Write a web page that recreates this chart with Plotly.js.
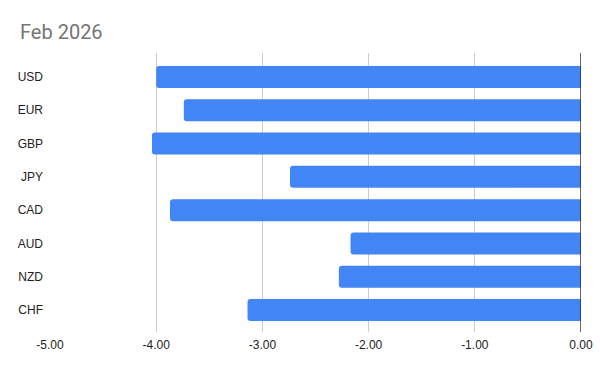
<!DOCTYPE html>
<html>
<head>
<meta charset="utf-8">
<script src="https://cdn.plot.ly/plotly-3.0.1.min.js"></script>
<style>html,body{margin:0;padding:0;background:#fff;}#chart{width:600px;height:371px;}</style>
</head>
<body>
<div id="chart"></div>
<script>
const currencies = ["USD", "EUR", "GBP", "JPY", "CAD", "AUD", "NZD", "CHF"];
const values = [-4.00, -3.74, -4.04, -2.74, -3.87, -2.17, -2.28, -3.14];
const xTickVals = [-5, -4, -3, -2, -1, 0];
const xTickText = ["-5.00", "-4.00", "-3.00", "-2.00", "-1.00", "0.00"];
const chartTitle = "Feb 2026";

const trace = {
  type: "bar",
  orientation: "h",
  y: currencies,
  x: values,
  marker: { color: "#4285F4", cornerradius: 3 },
  hoverinfo: "x+y"
};

const layout = {
  width: 600,
  height: 371,
  paper_bgcolor: "#ffffff",
  plot_bgcolor: "#ffffff",
  margin: { l: 50, r: 19, t: 53, b: 39 },
  title: {
    text: chartTitle,
    font: { family: "Roboto, Arial, sans-serif", size: 20, color: "#757575" },
    x: 0, xref: "paper", xanchor: "left",
    y: 1, yref: "container", yanchor: "top",
    pad: { t: 25, l: -30 }
  },
  bargap: 0.34,
  showlegend: false,
  xaxis: {
    range: [-5, 0],
    tickvals: xTickVals,
    ticktext: xTickText,
    showgrid: true,
    gridcolor: "#cccccc",
    gridwidth: 1,
    zeroline: false,
    showline: false,
    ticks: "",
    ticklabelstandoff: 4,
    tickfont: { family: "Arial, Liberation Sans, sans-serif", size: 12, color: "#222222" },
    fixedrange: true
  },
  yaxis: {
    type: "category",
    autorange: false,
    range: [7.66, -0.72],
    showgrid: false,
    zeroline: false,
    showline: false,
    ticks: "",
    ticklabelstandoff: 6,
    tickfont: { family: "Arial, Liberation Sans, sans-serif", size: 12, color: "#222222" },
    fixedrange: true
  },
  shapes: [{
    type: "line", xref: "x", yref: "paper",
    x0: 0, x1: 0, y0: 0, y1: 1,
    line: { color: "#333333", width: 1.5 }
  }]
};

Plotly.newPlot("chart", [trace], layout, { displayModeBar: false, staticPlot: true });
</script>
</body>
</html>
